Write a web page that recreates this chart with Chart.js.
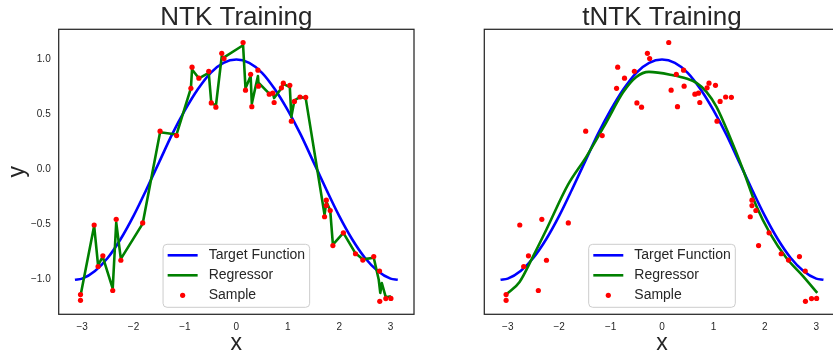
<!DOCTYPE html>
<html><head><meta charset="utf-8">
<script src="https://cdn.jsdelivr.net/npm/chart.js@4/dist/chart.umd.min.js"></script>
<style>
html,body{margin:0;padding:0;width:833px;height:356px;overflow:hidden;background:#fff;}
#w1{position:absolute;left:0;top:0;width:420px;height:356px;}
#w2{position:absolute;left:420px;top:0;width:430px;height:356px;}
</style></head><body>
<div id="w1"><canvas id="c1" width="420" height="356"></canvas></div>
<div id="w2"><canvas id="c2" width="430" height="356"></canvas></div>
<script>
// ---- data ----
const chartTitles = ['NTK Training', 'tNTK Training'];
const seriesLabels = ['Target Function', 'Regressor', 'Sample'];

const xTickValues = [-3, -2, -1, 0, 1, 2, 3];
const xTickLabels = ['\u22123', '\u22122', '\u22121', '0', '1', '2', '3'];
const yTickValues = [-1.0, -0.5, 0.0, 0.5, 1.0];
const yTickLabels = ['\u22121.0', '\u22120.5', '0.0', '0.5', '1.0'];

const targetX = [-3.14,-3.0,-2.75,-2.5,-2.25,-2.0,-1.75,-1.5,-1.25,-1.0,-0.75,-0.5,-0.25,0,0.25,0.5,0.75,1.0,1.25,1.5,1.75,2.0,2.25,2.5,2.75,3.0,3.14];
const targetY = [-1.0,-0.99,-0.92,-0.80,-0.63,-0.42,-0.18,0.07,0.32,0.54,0.73,0.88,0.97,1.0,0.97,0.88,0.73,0.54,0.32,0.07,-0.18,-0.42,-0.63,-0.80,-0.92,-0.99,-1.0];

const sampleX = [-3.032,-3.032,-2.766,-2.69,-2.597,-2.405,-2.337,-2.247,-1.822,-1.484,-1.163,-0.884,-0.862,-0.729,-0.537,-0.488,-0.398,-0.284,-0.240,0.131,0.178,0.278,0.301,0.42,0.43,0.64,0.709,0.735,0.877,0.914,1.04,1.07,1.13,1.238,1.349,1.716,1.75,1.75,1.826,1.878,2.082,2.318,2.46,2.673,2.786,2.79,2.908,3.007];
const sampleY = [-1.135,-1.187,-0.503,-0.880,-0.783,-1.098,-0.451,-0.823,-0.484,0.350,0.310,0.739,0.931,0.831,0.893,0.606,0.568,1.057,1.009,1.155,0.722,0.866,0.572,0.904,0.758,0.686,0.695,0.610,0.743,0.786,0.766,0.440,0.620,0.660,0.657,-0.428,-0.277,-0.326,-0.371,-0.690,-0.574,-0.764,-0.821,-0.790,-0.921,-1.196,-1.171,-1.170];

const ntkRegX = [-3.03,-2.766,-2.69,-2.60,-2.405,-2.337,-2.247,-1.822,-1.484,-1.163,-0.884,-0.862,-0.729,-0.537,-0.488,-0.398,-0.284,-0.240,0.131,0.178,0.278,0.301,0.42,0.43,0.64,0.709,0.735,0.877,0.914,1.04,1.07,1.13,1.238,1.349,1.716,1.75,1.826,1.878,2.082,2.318,2.46,2.673,2.77,2.80,2.83,2.908,3.007];
const ntkRegY = [-1.14,-0.51,-0.87,-0.79,-1.08,-0.48,-0.81,-0.49,0.34,0.32,0.74,0.91,0.83,0.88,0.61,0.58,1.03,1.02,1.13,0.74,0.85,0.60,0.85,0.79,0.69,0.70,0.65,0.74,0.78,0.75,0.48,0.63,0.66,0.65,-0.41,-0.29,-0.37,-0.68,-0.575,-0.76,-0.815,-0.80,-1.0,-1.12,-1.03,-1.16,-1.15];

const tntkRegX = [-3.03,-2.77,-2.51,-2.25,-1.83,-1.47,-1.083,-0.76,-0.5,-0.253,0.214,0.475,0.67,0.865,1.06,1.319,1.578,1.839,2.098,2.42,2.746,3.02];
const tntkRegY = [-1.135,-1.02,-0.79,-0.546,-0.139,0.118,0.43,0.70,0.842,0.888,0.858,0.828,0.788,0.707,0.571,0.299,-0.003,-0.335,-0.576,-0.803,-0.969,-1.12];

// ---- drawing ----
const FONT = '"Liberation Sans", Arial, sans-serif';
const TXT = '#262626';
const pts = (xs, ys) => xs.map((x, i) => ({x: x, y: ys[i]}));

const framePlugin = {
  id: 'frame',
  afterDatasetsDraw(chart) {
    const a = chart.chartArea, ctx = chart.ctx;
    ctx.save();
    ctx.strokeStyle = TXT; ctx.lineWidth = 1.25;
    ctx.strokeRect(a.left, a.top, a.right - a.left, a.bottom - a.top);
    ctx.restore();
  }
};

const legendPlugin = {
  id: 'innerLegend',
  afterDraw(chart) {
    const a = chart.chartArea, ctx = chart.ctx;
    const w = 146.6, h = 63, r = 4;
    const cx = (a.left + a.right) / 2;
    const x0 = cx - w / 2, y0 = a.bottom - 7 - h;
    ctx.save();
    ctx.beginPath();
    ctx.moveTo(x0 + r, y0);
    ctx.arcTo(x0 + w, y0, x0 + w, y0 + h, r);
    ctx.arcTo(x0 + w, y0 + h, x0, y0 + h, r);
    ctx.arcTo(x0, y0 + h, x0, y0, r);
    ctx.arcTo(x0, y0, x0 + w, y0, r);
    ctx.closePath();
    ctx.fillStyle = 'rgba(255,255,255,0.8)';
    ctx.fill();
    ctx.strokeStyle = '#cccccc'; ctx.lineWidth = 1;
    ctx.stroke();
    chart.data.datasets.forEach((ds, i) => {
      const yy = y0 + 11 + 20 * i;
      if (ds.showLine) {
        ctx.beginPath();
        ctx.moveTo(x0 + 4.6, yy); ctx.lineTo(x0 + 34.6, yy);
        ctx.strokeStyle = ds.borderColor; ctx.lineWidth = ds.borderWidth;
        ctx.stroke();
      } else {
        ctx.beginPath();
        ctx.arc(x0 + 19.6, yy, ds.pointRadius, 0, Math.PI * 2);
        ctx.fillStyle = ds.pointBackgroundColor; ctx.fill();
      }
      ctx.fillStyle = TXT;
      ctx.font = '14px ' + FONT;
      ctx.textBaseline = 'middle'; ctx.textAlign = 'left';
      ctx.fillText(ds.label, x0 + 45.6, yy);
    });
    ctx.restore();
  }
};

function makeDatasets(regX, regY, smooth) {
  return [
    {label: seriesLabels[0], data: pts(targetX, targetY), showLine: true, borderColor: '#0000ff', borderWidth: 2.6,
     pointRadius: 0, cubicInterpolationMode: 'monotone', order: 3},
    {label: seriesLabels[1], data: pts(regX, regY), showLine: true, borderColor: '#008000', borderWidth: 2.6,
     pointRadius: 0, borderJoinStyle: 'round', cubicInterpolationMode: smooth ? 'monotone' : 'default', tension: 0, order: 2},
    {label: seriesLabels[2], data: pts(sampleX, sampleY), showLine: false, pointRadius: 2.6,
     pointBackgroundColor: '#ff0000', pointBorderWidth: 0, order: 1}
  ];
}

function makeOptions(title, isLeft) {
  return {
    responsive: false, animation: false, devicePixelRatio: 1,
    layout: {padding: {left: 0, right: isLeft ? 6 : 10.3, top: 0, bottom: 0}},
    plugins: {
      legend: {display: false}, tooltip: {enabled: false},
      title: {display: true, text: title, fullSize: false, color: TXT,
              font: {family: FONT, size: 26, weight: 'normal', lineHeight: 0.8}, padding: {top: 7.6, bottom: 0.9}}
    },
    scales: {
      x: {
        type: 'linear', min: -3.456, max: 3.456,
        grid: {display: false, drawTicks: false}, border: {display: false},
        afterBuildTicks: s => { s.ticks = xTickValues.map(v => ({value: v})); },
        ticks: {padding: 7, autoSkip: false, maxRotation: 0, color: TXT, font: {family: FONT, size: 10},
                callback: (v, i) => xTickLabels[i]},
        title: {display: true, text: 'x', color: TXT, font: {family: FONT, size: 23, lineHeight: 1}, padding: {top: 0, bottom: 0.6}},
        afterFit: s => { s.height = 41.7; }
      },
      y: {
        type: 'linear', min: -1.314, max: 1.275, display: isLeft,
        grid: {display: false, drawTicks: false}, border: {display: false},
        afterBuildTicks: s => { s.ticks = yTickValues.map(v => ({value: v})); },
        ticks: {padding: 8, color: TXT, font: {family: FONT, size: 10}, callback: (v, i) => yTickLabels[i]},
        title: {display: true, text: 'y', color: TXT, font: {family: FONT, size: 23, lineHeight: 1}, padding: {top: 6.5, bottom: 0}},
        afterFit: s => { s.width = isLeft ? 58.7 : 64.3; }
      }
    }
  };
}

new Chart(document.getElementById('c1'), {
  type: 'scatter',
  data: {datasets: makeDatasets(ntkRegX, ntkRegY, false)},
  options: makeOptions(chartTitles[0], true),
  plugins: [framePlugin, legendPlugin]
});
new Chart(document.getElementById('c2'), {
  type: 'scatter',
  data: {datasets: makeDatasets(tntkRegX, tntkRegY, true)},
  options: makeOptions(chartTitles[1], false),
  plugins: [framePlugin, legendPlugin]
});
</script>
</body></html>
